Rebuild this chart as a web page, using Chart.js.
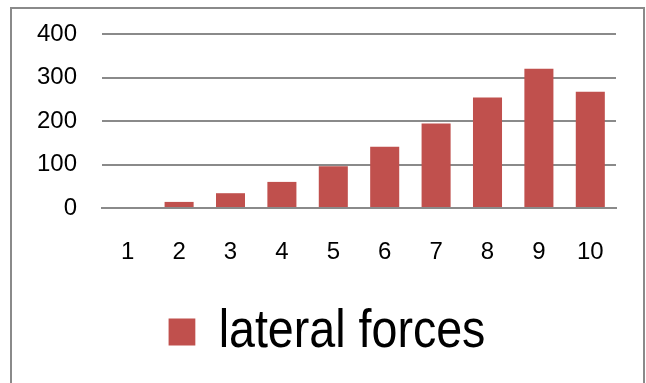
<!DOCTYPE html>
<html>
<head>
<meta charset="utf-8">
<script src="https://cdn.jsdelivr.net/npm/chart.js@4/dist/chart.umd.min.js"></script>
<style>
  html, body { margin: 0; padding: 0; background: #fff; }
  #wrap { position: relative; width: 646px; height: 383px; overflow: hidden; }
  #frame {
    position: absolute; left: 10px; top: 7px; width: 631px; height: 420px;
    border: 2px solid #8a8a8a; border-bottom: none; box-sizing: content-box;
  }
  canvas { position: absolute; left: 0; top: 0; }
</style>
</head>
<body>
<div id="wrap">
  <div id="frame"></div>
  <canvas id="c" width="646" height="383"></canvas>
</div>
<script>
// Lateral force per storey level
const categories = ['1', '2', '3', '4', '5', '6', '7', '8', '9', '10'];
const lateralForces = [0, 14, 34, 60, 96, 141, 194, 254, 320, 267];
const yTicks = [0, 100, 200, 300, 400];
const seriesName = 'lateral forces';

const barColor = '#C0504D';
const gridColor = '#8a8a8a';

// The legend uses a narrow face; squeeze it horizontally around its centre.
const LEGEND_SQUEEZE = 0.863;
const LEGEND_SHIFT = 19;
const narrowLegend = {
  id: 'narrowLegend',
  beforeDraw(chart) {
    const legend = chart.legend;
    if (!legend || legend._narrowed) return;
    const baseDraw = legend.draw.bind(legend);
    legend.draw = function (area) {
      const ctx = chart.ctx;
      const cx = (legend.left + legend.right) / 2;
      ctx.save();
      ctx.translate(cx + LEGEND_SHIFT, 0);
      ctx.scale(LEGEND_SQUEEZE, 1);
      ctx.translate(-cx, 0);
      baseDraw(area);
      ctx.restore();
    };
    legend._narrowed = true;
  }
};

new Chart(document.getElementById('c'), {
  type: 'bar',
  data: {
    labels: categories,
    datasets: [{
      label: seriesName,
      data: lateralForces,
      backgroundColor: barColor,
      borderWidth: 0,
      categoryPercentage: 0.565,
      barPercentage: 1
    }]
  },
  plugins: [narrowLegend],
  options: {
    responsive: false,
    animation: false,
    devicePixelRatio: 1,
    layout: { padding: { top: 34, right: 30, bottom: 14, left: 0 } },
    plugins: {
      tooltip: { enabled: false },
      legend: {
        position: 'bottom',
        labels: {
          color: '#000',
          boxWidth: 31,
          boxHeight: 27,
          padding: 10,
          font: { family: '"Liberation Sans", Arial, sans-serif', size: 54 }
        }
      }
    },
    scales: {
      x: {
        grid: { display: false, drawTicks: false },
        border: { display: true, color: gridColor, width: 2 },
        ticks: {
          color: '#000',
          padding: 30,
          maxRotation: 0,
          font: { family: '"Liberation Sans", Arial, sans-serif', size: 24 }
        },
        afterFit: (axis) => { axis.height = 87; }
      },
      y: {
        min: 0,
        max: 400,
        afterBuildTicks: (axis) => { axis.ticks = yTicks.map(v => ({ value: v })); },
        grid: { color: gridColor, lineWidth: 2, drawTicks: false },
        border: { display: false },
        ticks: {
          color: '#000',
          padding: 25,
          font: { family: '"Liberation Sans", Arial, sans-serif', size: 24 }
        },
        afterFit: (axis) => {
          axis.width = 102;
          axis.paddingTop = 0;
          axis.paddingBottom = 0;
        }
      }
    }
  }
});
</script>
</body>
</html>
